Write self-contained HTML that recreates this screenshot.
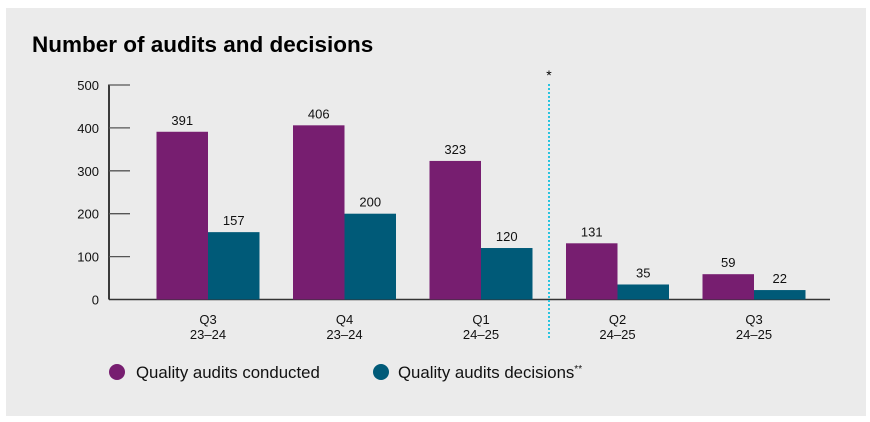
<!DOCTYPE html>
<html><head><meta charset="utf-8"><style>
html,body{margin:0;padding:0;background:#fff;width:870px;height:422px;overflow:hidden}
svg{display:block;font-family:"Liberation Sans",sans-serif}
</style></head><body>
<svg width="870" height="422">
<rect x="6" y="8" width="860" height="408" fill="#ebebeb"/>
<text x="32" y="52" font-size="22.5" font-weight="bold" fill="#000">Number of audits and decisions</text>
<g id="axis"></g><g id="bars"></g>
<line x1="549" y1="84" x2="549" y2="340" stroke="#29c4e0" stroke-width="2" stroke-dasharray="2,2"/>
<text x="549" y="80" font-size="14" text-anchor="middle" fill="#000">*</text>
<circle cx="117" cy="372" r="8" fill="#771e70"/>
<text x="136" y="378" font-size="16.8" fill="#111">Quality audits conducted</text>
<circle cx="381" cy="372" r="8" fill="#005a78"/>
<text x="398" y="378" font-size="16.8" fill="#111">Quality audits decisions<tspan font-size="10" dy="-6">**</tspan></text>
</svg>
<script>
const quarters=["Q3","Q4","Q1","Q2","Q3"];
const years=["23–24","23–24","24–25","24–25","24–25"];
const conducted=[391,406,323,131,59];
const decisions=[157,200,120,35,22];
const ticks=[0,100,200,300,400,500];
const NS="http://www.w3.org/2000/svg";
const y0=299.5,yTop=85,vmax=500;
function y(v){return y0-(v/vmax)*(y0-yTop);}
function x(i){return 208+i*136.5;}
const bw=51.5;
function mk(tag,attrs,parent,txt){const e=document.createElementNS(NS,tag);for(const k in attrs)e.setAttribute(k,attrs[k]);if(txt!==undefined)e.textContent=txt;parent.appendChild(e);return e;}
const ax=document.getElementById('axis'),bars=document.getElementById('bars');
let l=mk('line',{x1:109,y1:y(vmax)-0.5,x2:109,y2:y0,stroke:'#000','stroke-width':1.5},ax);


l=mk('line',{x1:109,y1:y0,x2:830,y2:y0,stroke:'#333','stroke-width':1.5},ax);


ticks.forEach(t=>{
 if(t>0){const tl=mk('line',{x1:109,y1:y(t),x2:130,y2:y(t),stroke:'#555','stroke-width':1.3},ax);
 
 }
 const tx=mk('text',{x:99,y:y(t)+5,'font-size':13,'text-anchor':'end',fill:'#111'},ax,t);
 
 
});
quarters.forEach((q,i)=>{
 const cx=x(i);
 const r1=mk('rect',{x:cx-bw,y:y(conducted[i]),width:bw,height:y0-y(conducted[i]),fill:'#771e70'},bars);
 
 
 const r2=mk('rect',{x:cx,y:y(decisions[i]),width:bw,height:y0-y(decisions[i]),fill:'#005a78'},bars);
 
 
 const v1=mk('text',{x:cx-bw/2,y:y(conducted[i])-7,'font-size':13,'text-anchor':'middle',fill:'#111'},bars,conducted[i]);
 
 
 const v2=mk('text',{x:cx+bw/2,y:y(decisions[i])-7,'font-size':13,'text-anchor':'middle',fill:'#111'},bars,decisions[i]);
 
 
 const c1=mk('text',{x:cx,y:324,'font-size':13,'text-anchor':'middle',fill:'#111'},bars,q);
 
 
 const c2=mk('text',{x:cx,y:339,'font-size':13,'text-anchor':'middle',fill:'#111'},bars,years[i]);
 
 
});
</script>
</body></html>
